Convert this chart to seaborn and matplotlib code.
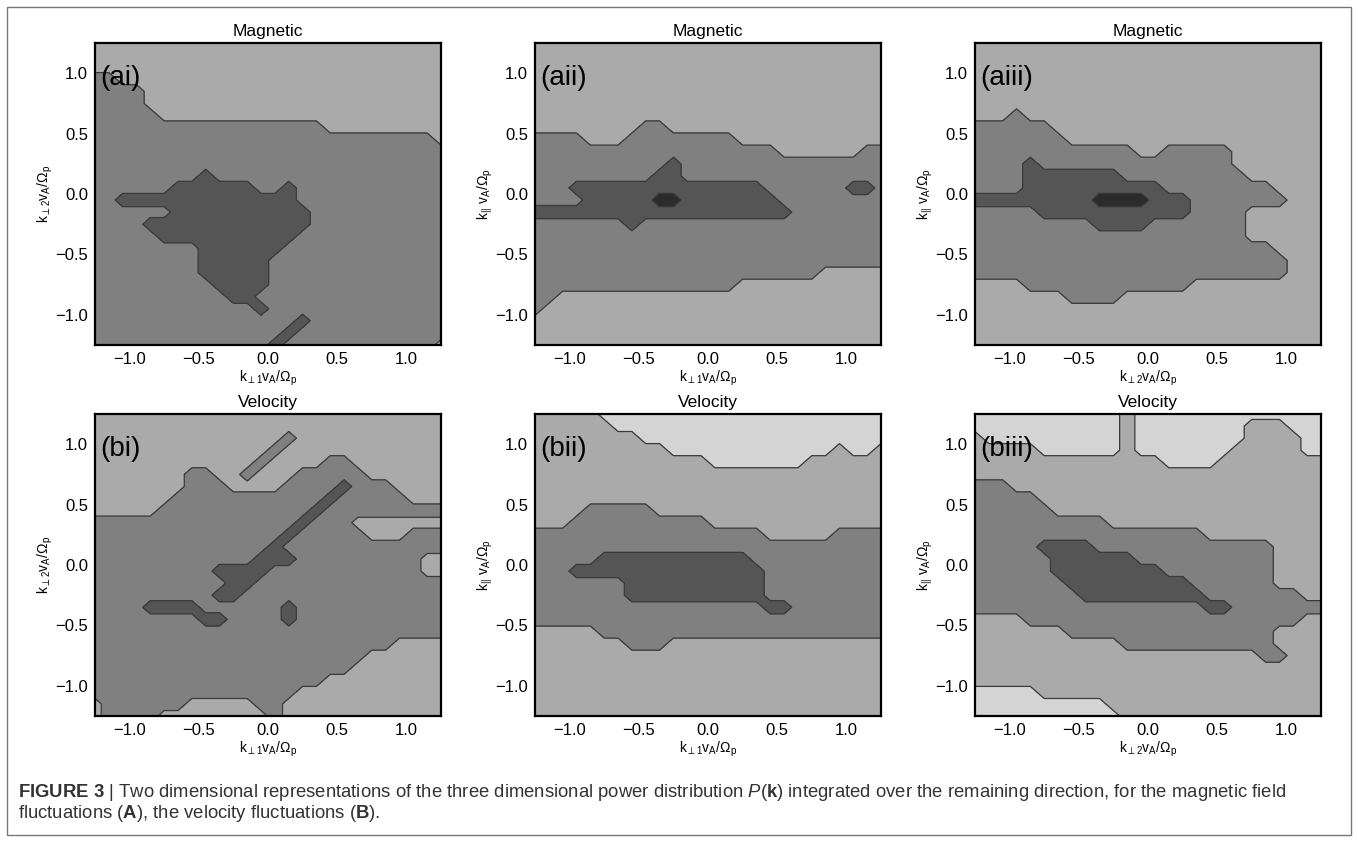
import numpy as np
import matplotlib
matplotlib.use("Agg")
import matplotlib.pyplot as plt
import seaborn as sns
from matplotlib.patches import Rectangle
from matplotlib.ticker import MultipleLocator, FuncFormatter

# ---------------------------------------------------------------- data
# wavenumber grid (same for both axes of every panel), in units of Omega_p / v_A
k_grid = np.linspace(-1.25, 1.25, 26)

# power level at each grid point
# (rows: top = +1.25 ... bottom = -1.25; columns: left = -1.25 ... right = +1.25)
# 0 = lowest power (lightest grey) ... 4 = highest power (darkest grey)
grid_ai = [
    "11111 11111 11111 11111 11111 1",
    "11111 11111 11111 11111 11111 1",
    "11111 11111 11111 11111 11111 1",
    "22111 11111 11111 11111 11111 1",
    "22221 11111 11111 11111 11111 1",
    "22221 11111 11111 11111 11111 1",
    "22222 11111 11111 11111 11111 1",
    "22222 22222 22222 22111 11111 1",
    "22222 22222 22222 22222 22222 1",
    "22222 22222 22222 22222 22222 2",
    "22222 22222 22222 22222 22222 2",
    "22222 22232 22222 22222 22222 2",
    "22222 23333 33223 22222 22222 2",
    "22333 33333 33333 22222 22222 2",
    "22222 23333 33333 32222 22222 2",
    "22223 33333 33333 32222 22222 2",
    "22222 33333 33333 22222 22222 2",
    "22222 22233 33332 22222 22222 2",
    "22222 22233 33322 22222 22222 2",
    "22222 22233 33322 22222 22222 2",
    "22222 22223 33322 22222 22222 2",
    "22222 22222 33222 22222 22222 2",
    "22222 22222 22322 22222 22222 2",
    "22222 22222 22222 32222 22222 2",
    "22222 22222 22223 22222 22222 2",
    "22222 22222 22232 22222 22222 1",
]

grid_aii = [
    "11111 11111 11111 11111 11111 1",
    "11111 11111 11111 11111 11111 1",
    "11111 11111 11111 11111 11111 1",
    "11111 11111 11111 11111 11111 1",
    "11111 11111 11111 11111 11111 1",
    "11111 11111 11111 11111 11111 1",
    "11111 11111 11111 11111 11111 1",
    "11111 11122 11111 11111 11111 1",
    "22221 11222 22222 11111 11111 1",
    "22222 22222 22222 22211 11112 2",
    "22222 22222 32222 22222 22222 2",
    "22222 22223 32222 22222 22222 2",
    "22233 33333 33333 33222 22233 2",
    "22223 33334 43333 33322 22222 2",
    "33333 33333 33333 33332 22222 2",
    "22222 22322 22222 22222 22222 2",
    "22222 22222 22222 22222 22222 2",
    "22222 22222 22222 22222 22222 2",
    "22222 22222 22222 22222 22222 2",
    "22222 22222 22222 22222 21111 1",
    "22222 22222 22222 11111 11111 1",
    "22111 11111 11111 11111 11111 1",
    "21111 11111 11111 11111 11111 1",
    "11111 11111 11111 11111 11111 1",
    "11111 11111 11111 11111 11111 1",
    "11111 11111 11111 11111 11111 1",
]

grid_aiii = [
    "11111 11111 11111 11111 11111 1",
    "11111 11111 11111 11111 11111 1",
    "11111 11111 11111 11111 11111 1",
    "11111 11111 11111 11111 11111 1",
    "11111 11111 11111 11111 11111 1",
    "11111 11111 11111 11111 11111 1",
    "11121 11111 11111 11111 11111 1",
    "22222 21111 11111 11111 11111 1",
    "22222 22111 11111 11111 11111 1",
    "22222 22222 22112 22221 11111 1",
    "22223 22222 22222 22221 11111 1",
    "22223 33333 32222 22222 11111 1",
    "22223 33333 33332 22222 22111 1",
    "33333 33334 44433 32222 22211 1",
    "22222 33333 33333 32222 11111 1",
    "22222 22223 33322 22222 11111 1",
    "22222 22222 22222 22222 11111 1",
    "22222 22222 22222 22222 22111 1",
    "22222 22222 22222 22222 22211 1",
    "22222 22222 22222 22222 22211 1",
    "11112 22222 22222 21111 11111 1",
    "11111 11222 21111 11111 11111 1",
    "11111 11111 11111 11111 11111 1",
    "11111 11111 11111 11111 11111 1",
    "11111 11111 11111 11111 11111 1",
    "11111 11111 11111 11111 11111 1",
]

grid_bi = [
    "11111 11111 11111 11111 11111 1",
    "11111 11111 11111 11111 11111 1",
    "11111 11111 11112 11111 11111 1",
    "11111 11111 11121 11111 11111 1",
    "11111 11111 11211 11221 11111 1",
    "11111 11221 12111 22222 11111 1",
    "11111 11222 11112 22232 22111 1",
    "11111 12222 22222 22322 22211 1",
    "11111 22222 22222 23222 22222 2",
    "22222 22222 22222 32221 11111 1",
    "22222 22222 22223 22222 11122 2",
    "22222 22222 22232 22222 22222 2",
    "22222 22222 22333 22222 22221 1",
    "22222 22223 33322 22222 22221 1",
    "22222 22222 33222 22222 22222 2",
    "22222 22223 32222 22222 22222 2",
    "22223 33322 22223 22222 22222 2",
    "22222 22233 22223 22222 22222 2",
    "22222 22222 22222 22222 22222 2",
    "22222 22222 22222 22222 22111 1",
    "22222 22222 22222 22222 11111 1",
    "22222 22222 22222 22221 11111 1",
    "22222 22222 22222 22111 11111 1",
    "22222 22222 22222 11111 11111 1",
    "12222 22111 11221 11111 11111 1",
    "12222 11111 11121 11111 11111 1",
]

grid_bii = [
    "11111 00000 00000 00000 00000 0",
    "11111 10000 00000 00000 00000 0",
    "11111 11100 00000 00000 00000 0",
    "11111 11111 00000 00000 00100 1",
    "11111 11111 11100 00000 11111 1",
    "11111 11111 11111 11111 11111 1",
    "11111 11111 11111 11111 11111 1",
    "11111 11111 11111 11111 11111 1",
    "11112 22221 11111 11111 11111 1",
    "11122 22222 22211 11111 11111 1",
    "22222 22222 22222 22111 11222 2",
    "22222 22222 22222 22222 22222 2",
    "22222 33333 33333 32222 22222 2",
    "22233 33333 33333 33222 22222 2",
    "22222 22333 33333 33222 22222 2",
    "22222 22333 33333 33222 22222 2",
    "22222 22222 22222 22332 22222 2",
    "22222 22222 22222 22222 22222 2",
    "11111 22222 22222 22222 22222 2",
    "11111 11222 11111 11111 11111 1",
    "11111 11111 11111 11111 11111 1",
    "11111 11111 11111 11111 11111 1",
    "11111 11111 11111 11111 11111 1",
    "11111 11111 11111 11111 11111 1",
    "11111 11111 11111 11111 11111 1",
    "11111 11111 11111 11111 11111 1",
]

grid_biii = [
    "00000 00000 01000 00000 00000 0",
    "00000 00000 01000 00000 11100 0",
    "10000 00000 01000 00000 11110 0",
    "11111 00000 01000 00001 11110 0",
    "11111 11111 11110 00011 11111 1",
    "11111 11111 11111 11111 11111 1",
    "22211 11111 11111 11111 11111 1",
    "22222 11111 11111 11111 11111 1",
    "22222 21111 11111 11111 11111 1",
    "22222 22222 11111 11111 11111 1",
    "22222 22222 22222 22111 11111 1",
    "22222 33332 22222 22222 22111 1",
    "22222 23333 33222 22222 22111 1",
    "22222 23333 33332 22222 22111 1",
    "22222 22333 33333 32222 22111 1",
    "22222 22233 33333 33222 22221 1",
    "22222 22222 22222 22332 22222 2",
    "11112 22222 22222 22222 22221 1",
    "11111 11222 22222 22222 22111 1",
    "11111 11111 12222 22222 22111 1",
    "11111 11111 11111 11111 12211 1",
    "11111 11111 11111 11111 11111 1",
    "11111 11111 11111 11111 11111 1",
    "00000 11111 11111 11111 11111 1",
    "00000 00000 11111 11111 11111 1",
    "00000 00000 01111 11111 11111 1",
]

panel_titles = ["Magnetic", "Magnetic", "Magnetic", "Velocity", "Velocity", "Velocity"]
panel_tags = ["(ai)", "(aii)", "(aiii)", "(bi)", "(bii)", "(biii)"]
x_labels = [r"$\mathregular{k_{\perp 1}v_A/\Omega_p}$", r"$\mathregular{k_{\perp 1}v_A/\Omega_p}$",
            r"$\mathregular{k_{\perp 2}v_A/\Omega_p}$", r"$\mathregular{k_{\perp 1}v_A/\Omega_p}$",
            r"$\mathregular{k_{\perp 1}v_A/\Omega_p}$", r"$\mathregular{k_{\perp 2}v_A/\Omega_p}$"]
y_labels = [r"$\mathregular{k_{\perp 2}v_A/\Omega_p}$", r"$\mathregular{k_{||}\ v_A/\Omega_p}$",
            r"$\mathregular{k_{||}\ v_A/\Omega_p}$", r"$\mathregular{k_{\perp 2}v_A/\Omega_p}$",
            r"$\mathregular{k_{||}\ v_A/\Omega_p}$", r"$\mathregular{k_{||}\ v_A/\Omega_p}$"]
grids = [grid_ai, grid_aii, grid_aiii, grid_bi, grid_bii, grid_biii]

caption_1 = (r"$\mathbf{FIGURE\ 3}$ | Two dimensional representations of the three dimensional "
             r"power distribution $\mathit{P}$($\mathbf{k}$) integrated over the remaining direction, "
             r"for the magnetic field")
caption_2 = r"fluctuations ($\mathbf{A}$), the velocity fluctuations ($\mathbf{B}$)."

# ---------------------------------------------------------------- style
sns.set_theme(style="ticks")
plt.rcParams["font.family"] = ["Liberation Sans", "DejaVu Sans"]
plt.rcParams["mathtext.fontset"] = "custom"
plt.rcParams["mathtext.rm"] = "Liberation Sans"
plt.rcParams["mathtext.it"] = "Liberation Sans:italic"
plt.rcParams["mathtext.bf"] = "Liberation Sans:bold"

W, H = 1358, 841
fig = plt.figure(figsize=(W / 100, H / 100), dpi=100)
fig.patch.set_facecolor("white")

level_colors = ["#d4d4d4", "#aaaaaa", "#808080", "#555555", "#2b2b2b"]
bounds = [-0.55, 0.45, 1.45, 2.45, 3.45, 4.45]

col_left = [95, 535, 975]
row_top = [43, 414]
ax_w, ax_h = 346, 302

fmt = FuncFormatter(lambda v, p: f"{v:.1f}".replace("-", "\u2212") if abs(v) > 1e-9 else "0.0")

for n in range(6):
    r, c = divmod(n, 3)
    left = col_left[c]
    top = row_top[r]
    ax = fig.add_axes([left / W, 1 - (top + ax_h) / H, ax_w / W, ax_h / H])
    Z = np.array([[int(ch) for ch in row.replace(" ", "")] for row in grids[n]], dtype=float)[::-1]
    ax.contourf(k_grid, k_grid, Z, levels=bounds, colors=level_colors)
    ax.contour(k_grid, k_grid, Z, levels=bounds[1:-1], colors="#3a3a3a", linewidths=0.9)
    ax.set_xlim(-1.25, 1.25)
    ax.set_ylim(-1.25, 1.25)
    for axis in (ax.xaxis, ax.yaxis):
        axis.set_major_locator(MultipleLocator(0.5))
        axis.set_minor_locator(MultipleLocator(0.1))
        axis.set_major_formatter(fmt)
    ax.tick_params(which="both", direction="in", top=True, right=True, color="black",
                   width=1.1, labelsize=12, pad=5, labelcolor="black")
    ax.tick_params(which="major", length=7)
    ax.tick_params(which="minor", length=3.5)
    for sp in ax.spines.values():
        sp.set_linewidth(1.6)
        sp.set_color("black")
    ax.set_title(panel_titles[n], fontsize=12.5, pad=5, color="black")
    ax.set_xlabel(x_labels[n], fontsize=10, color="black")
    ax.set_ylabel(y_labels[n], fontsize=10, color="black")
    ax.xaxis.set_label_coords(0.5, -0.08)
    ax.yaxis.set_label_coords(-0.115, 0.5)
    ax.text(-1.215, 0.96, panel_tags[n], fontsize=20, ha="left", va="center", color="black")

fig.text(18 / W, 1 - 797 / H, caption_1, fontsize=13.3, color="#333333", ha="left", va="baseline")
fig.text(18 / W, 1 - 818 / H, caption_2, fontsize=13.3, color="#333333", ha="left", va="baseline")

fig.patches.append(Rectangle((7 / W, 1 - 835 / H), (1351 - 7) / W, (835 - 7) / H,
                             transform=fig.transFigure, fill=False, edgecolor="#777777", lw=1))

fig.savefig("out.png", dpi=100, facecolor="white")
